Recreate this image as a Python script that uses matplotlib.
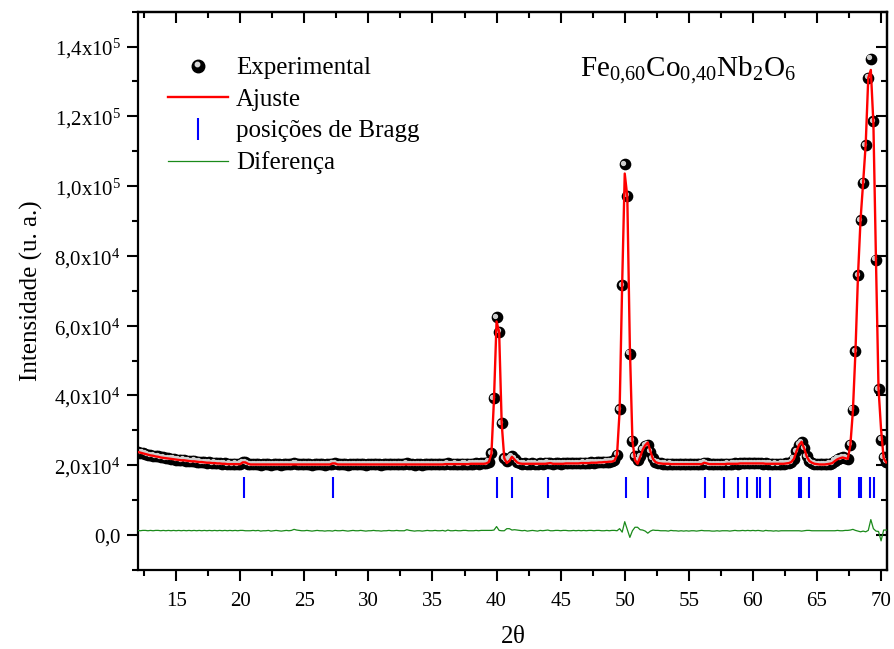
import numpy as np
import matplotlib
matplotlib.use('Agg')
import matplotlib.pyplot as plt
from matplotlib import transforms
from matplotlib.lines import Line2D
from matplotlib.legend_handler import HandlerBase
from matplotlib.ticker import MultipleLocator

plt.rcParams['font.family'] = ['Liberation Serif', 'DejaVu Serif']
plt.rcParams['mathtext.default'] = 'regular'

# grade angular (2 theta), passo de 0,2 graus
two_theta = np.linspace(12.0, 70.4, 293)

# intensidade observada (x1000 contagens), uma linha por grau
obs_k = [
    23.9, 23.6, 23.5, 23.3, 23.0,   # 12
    22.9, 22.7, 22.6, 22.5, 22.2,   # 13
    22.2, 22.0, 22.0, 21.8, 21.8,   # 14
    21.6, 21.6, 21.4, 21.5, 21.3,   # 15
    21.3, 21.1, 21.2, 21.0, 21.0,   # 16
    20.9, 20.9, 20.7, 20.8, 20.6,   # 17
    20.7, 20.5, 20.6, 20.4, 20.5,   # 18
    20.3, 20.4, 20.3, 20.4, 20.3,   # 19
    20.4, 20.9, 20.8, 20.4, 20.2,   # 20
    20.3, 20.2, 20.3, 20.1, 20.2,   # 21
    20.2, 20.3, 20.1, 20.2, 20.3,   # 22
    20.2, 20.1, 20.2, 20.3, 20.2,   # 23
    20.3, 20.6, 20.4, 20.3, 20.2,   # 24
    20.2, 20.3, 20.2, 20.1, 20.2,   # 25
    20.3, 20.2, 20.2, 20.1, 20.2,   # 26
    20.2, 20.4, 20.6, 20.2, 20.2,   # 27
    20.3, 20.2, 20.1, 20.2, 20.3,   # 28
    20.2, 20.2, 20.3, 20.2, 20.1,   # 29
    20.2, 20.2, 20.3, 20.2, 20.2,   # 30
    20.1, 20.2, 20.2, 20.3, 20.2,   # 31
    20.2, 20.3, 20.2, 20.2, 20.2,   # 32
    20.5, 20.3, 20.2, 20.1, 20.2,   # 33
    20.2, 20.1, 20.2, 20.3, 20.2,   # 34
    20.2, 20.3, 20.2, 20.2, 20.3,   # 35
    20.2, 20.5, 20.3, 20.3, 20.4,   # 36
    20.3, 20.3, 20.4, 20.4, 20.3,   # 37
    20.4, 20.4, 20.5, 20.4, 20.5,   # 38
    20.5, 20.6, 21.0, 23.4, 39.2,   # 39
    62.4, 58.3, 32.0, 22.0, 21.2,   # 40
    21.8, 22.6, 21.9, 21.0, 20.6,   # 41
    20.4, 20.5, 20.3, 20.4, 20.5,   # 42
    20.4, 20.3, 20.5, 20.4, 20.5,   # 43
    20.7, 20.6, 20.4, 20.5, 20.5,   # 44
    20.4, 20.5, 20.6, 20.5, 20.5,   # 45
    20.6, 20.5, 20.6, 20.6, 20.7,   # 46
    20.6, 20.7, 20.8, 20.7, 20.8,   # 47
    20.9, 20.8, 20.9, 21.0, 21.0,   # 48
    21.1, 21.4, 23.0, 36.1, 71.6,   # 49
    106.2, 97.3, 51.9, 27.0, 22.5,  # 50
    21.4, 22.6, 24.6, 25.6, 25.8,   # 51
    23.9, 22.0, 21.0, 20.7, 20.5,   # 52
    20.4, 20.4, 20.3, 20.4, 20.3,   # 53
    20.3, 20.2, 20.3, 20.2, 20.3,   # 54
    20.2, 20.3, 20.3, 20.2, 20.3,   # 55
    20.4, 20.7, 20.5, 20.3, 20.2,   # 56
    20.2, 20.3, 20.2, 20.3, 20.3,   # 57
    20.4, 20.3, 20.4, 20.5, 20.4,   # 58
    20.5, 20.6, 20.5, 20.6, 20.5,   # 59
    20.6, 20.5, 20.6, 20.5, 20.4,   # 60
    20.5, 20.4, 20.4, 20.3, 20.4,   # 61
    20.3, 20.4, 20.4, 20.5, 20.6,   # 62
    20.9, 21.8, 24.0, 25.8, 26.6,   # 63
    24.8, 22.6, 21.3, 20.7, 20.4,   # 64
    20.3, 20.2, 20.2, 20.2, 20.3,   # 65
    20.4, 20.6, 21.2, 21.8, 22.0,   # 66
    22.2, 22.1, 21.9, 25.8, 35.9,   # 67
    52.6, 74.4, 90.2, 100.9, 111.7, # 68
    131.1, 136.5, 118.6, 78.9, 41.8,  # 69
    27.3, 22.2, 21.0,               # 70
]

# intensidade calculada (ajuste Rietveld, x1000)
calc_k = [
    23.8, 23.6, 23.4, 23.2, 23.0,   # 12
    22.8, 22.7, 22.5, 22.4, 22.2,   # 13
    22.1, 22.0, 21.9, 21.8, 21.7,   # 14
    21.6, 21.5, 21.4, 21.4, 21.3,   # 15
    21.2, 21.1, 21.1, 21.0, 20.9,   # 16
    20.9, 20.8, 20.7, 20.7, 20.6,   # 17
    20.6, 20.5, 20.5, 20.4, 20.4,   # 18
    20.3, 20.3, 20.3, 20.3, 20.3,   # 19
    20.3, 20.8, 20.8, 20.4, 20.2,   # 20
    20.2, 20.2, 20.2, 20.2, 20.2,   # 21
    20.2, 20.2, 20.2, 20.2, 20.2,   # 22
    20.2, 20.2, 20.2, 20.2, 20.2,   # 23
    20.2, 20.2, 20.2, 20.2, 20.2,   # 24
    20.2, 20.2, 20.2, 20.2, 20.2,   # 25
    20.2, 20.2, 20.2, 20.2, 20.2,   # 26
    20.2, 20.5, 20.5, 20.2, 20.2,   # 27
    20.2, 20.2, 20.2, 20.2, 20.2,   # 28
    20.2, 20.2, 20.2, 20.2, 20.2,   # 29
    20.2, 20.2, 20.2, 20.2, 20.2,   # 30
    20.2, 20.2, 20.2, 20.2, 20.2,   # 31
    20.2, 20.2, 20.2, 20.2, 20.2,   # 32
    20.2, 20.2, 20.2, 20.2, 20.2,   # 33
    20.2, 20.2, 20.2, 20.2, 20.2,   # 34
    20.2, 20.2, 20.2, 20.2, 20.2,   # 35
    20.3, 20.3, 20.3, 20.3, 20.3,   # 36
    20.3, 20.3, 20.3, 20.3, 20.3,   # 37
    20.4, 20.4, 20.4, 20.4, 20.4,   # 38
    20.4, 20.5, 20.9, 23.3, 39.0,   # 39
    61.2, 58.2, 32.0, 22.0, 20.6,   # 40
    21.2, 22.4, 21.6, 20.8, 20.5,   # 41
    20.4, 20.4, 20.4, 20.4, 20.4,   # 42
    20.4, 20.4, 20.4, 20.4, 20.4,   # 43
    20.5, 20.6, 20.4, 20.4, 20.4,   # 44
    20.4, 20.4, 20.5, 20.5, 20.5,   # 45
    20.5, 20.5, 20.5, 20.6, 20.6,   # 46
    20.6, 20.6, 20.7, 20.7, 20.7,   # 47
    20.8, 20.8, 20.9, 20.9, 21.0,   # 48
    21.0, 21.3, 23.0, 35.5, 72.0,   # 49
    103.6, 97.0, 53.8, 27.0, 21.5,  # 50
    20.4, 22.3, 24.4, 25.7, 26.5,   # 51
    24.0, 21.8, 20.9, 20.6, 20.5,   # 52
    20.4, 20.4, 20.4, 20.3, 20.3,   # 53
    20.3, 20.3, 20.3, 20.3, 20.3,   # 54
    20.3, 20.3, 20.3, 20.3, 20.3,   # 55
    20.3, 20.7, 20.5, 20.3, 20.3,   # 56
    20.3, 20.3, 20.3, 20.3, 20.3,   # 57
    20.4, 20.4, 20.4, 20.4, 20.4,   # 58
    20.5, 20.5, 20.5, 20.5, 20.5,   # 59
    20.5, 20.5, 20.5, 20.5, 20.5,   # 60
    20.4, 20.4, 20.4, 20.4, 20.4,   # 61
    20.4, 20.4, 20.4, 20.5, 20.6,   # 62
    20.9, 21.8, 24.0, 25.8, 26.7,   # 63
    24.8, 22.5, 21.2, 20.7, 20.4,   # 64
    20.3, 20.2, 20.2, 20.2, 20.3,   # 65
    20.4, 20.6, 21.2, 21.7, 22.0,   # 66
    22.2, 22.0, 21.8, 25.6, 35.5,   # 67
    52.5, 74.5, 90.5, 101.0, 112.0, # 68
    131.0, 133.3, 118.0, 79.0, 42.0,  # 69
    30.2, 22.0, 20.8,               # 70
]

# posicoes de Bragg (2 theta)
bragg_pos = [20.27, 27.27, 40.03, 41.17, 43.98, 50.08, 51.84, 56.23, 57.77,
             58.87, 59.54, 60.33, 60.55, 61.36, 63.56, 63.75, 64.37, 66.70,
             66.80, 68.30, 68.44, 69.13, 69.48]
bragg_low, bragg_high = 1.05e4, 1.65e4
diff_shift = 1.2e3

y_ticks = [0, 2e4, 4e4, 6e4, 8e4, 1e5, 1.2e5, 1.4e5]
y_tick_labels = [r'$0{,}0$', r'$2{,}0x10^{4}$', r'$4{,}0x10^{4}$', r'$6{,}0x10^{4}$',
                 r'$8{,}0x10^{4}$', r'$1{,}0x10^{5}$', r'$1{,}2x10^{5}$', r'$1{,}4x10^{5}$']

y_obs = np.array(obs_k) * 1e3
y_calc = np.array(calc_k) * 1e3
y_diff = y_obs - y_calc + diff_shift


class SphereHandler(HandlerBase):
    # esfera preta com brilho, como no Origin
    def create_artists(self, legend, orig_handle, xdescent, ydescent,
                       width, height, fontsize, trans):
        cx = width / 2 - xdescent
        cy = height / 2 - ydescent
        big = Line2D([cx], [cy], marker='o', color='black', markersize=9,
                     linestyle='none', transform=trans)
        spot = Line2D([cx - 1.3], [cy + 1.3], marker='o', color='#d8d8d8',
                      markersize=3.2, linestyle='none', transform=trans)
        return [big, spot]


fig = plt.figure(figsize=(8.94, 6.49), dpi=100)
ax = fig.add_axes([0.154, 0.122, 0.838, 0.860])

ax.plot(two_theta, y_obs, 'o', color='black', markersize=7.4, zorder=2)
hl = transforms.offset_copy(ax.transData, fig=fig, x=-1.5, y=1.5, units='dots')
ax.plot(two_theta, y_obs, 'o', color='#cfcfcf', markersize=2.8, zorder=2.5,
        transform=hl)
ax.plot(two_theta, y_calc, color='#ff0000', lw=1.7, zorder=3)
ax.vlines(bragg_pos, bragg_low, bragg_high, color='#0000ff', lw=1.5, zorder=3)
ax.plot(two_theta, y_diff, color='#1a8a1a', lw=0.9, zorder=3)

ax.set_xlim(12.0, 70.45)
ax.set_ylim(-1.0e4, 1.5e5)

ax.xaxis.set_major_locator(MultipleLocator(5))
ax.xaxis.set_minor_locator(MultipleLocator(2.5))
ax.set_yticks(y_ticks, labels=y_tick_labels)
ax.yaxis.set_minor_locator(MultipleLocator(1e4))
ax.tick_params(which='major', direction='out', length=8, width=1.5,
               labelsize=15)
ax.tick_params(which='minor', direction='out', length=4.5, width=1.5)
ax.tick_params(axis='x', pad=8)
ax.tick_params(axis='y', pad=4)
for sp in ax.spines.values():
    sp.set_linewidth(1.6)

# eixos de cima e da direita com ticks para dentro
top = ax.secondary_xaxis('top')
top.xaxis.set_major_locator(MultipleLocator(5))
top.xaxis.set_minor_locator(MultipleLocator(2.5))
top.tick_params(which='major', direction='in', length=8, width=1.5, labeltop=False)
top.tick_params(which='minor', direction='in', length=4.5, width=1.5)
top.spines['top'].set_linewidth(1.6)
right = ax.secondary_yaxis('right')
right.yaxis.set_major_locator(MultipleLocator(2e4))
right.yaxis.set_minor_locator(MultipleLocator(1e4))
right.tick_params(which='major', direction='in', length=8, width=1.5, labelright=False)
right.tick_params(which='minor', direction='in', length=4.5, width=1.5)
right.spines['right'].set_linewidth(1.6)

ax.set_xlabel(r'2$\mathregular{\theta}$', fontsize=18, labelpad=11)
ax.set_ylabel('Intensidade (u. a.)', fontsize=18, labelpad=8)

ax.text(0.591, 0.895, r'$Fe_{0{,}60}Co_{0{,}40}Nb_{2}O_{6}$', transform=ax.transAxes,
        fontsize=21, ha='left', va='center')

sphere = Line2D([], [], marker='o', color='black', linestyle='none')
h_calc = Line2D([], [], color='#ff0000', lw=1.7)
h_bragg = Line2D([], [], color='#0000ff', marker='|', linestyle='none',
                 markersize=16, markeredgewidth=1.5)
h_diff = Line2D([], [], color='#1a8a1a', lw=0.9)
ax.legend([sphere, h_calc, h_bragg, h_diff],
          ['Experimental', 'Ajuste', 'posições de Bragg', 'Diferença'],
          handler_map={sphere: SphereHandler()}, loc='upper left',
          bbox_to_anchor=(0.041, 0.919), borderaxespad=0, borderpad=0,
          frameon=False, fontsize=18, handlelength=2.4, handletextpad=0.3,
          labelspacing=0.36, numpoints=1)

fig.savefig('out.png', dpi=100)
